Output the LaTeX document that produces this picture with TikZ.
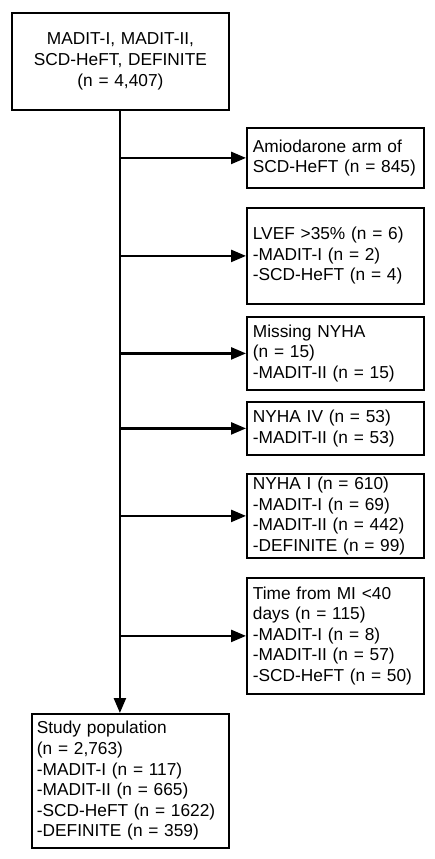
\documentclass[tikz,border=0pt]{standalone}
\usepackage{fontspec}
\setmainfont{Liberation Sans}
\usetikzlibrary{arrows.meta}
\begin{document}
\begin{tikzpicture}[x=1pt,y=-1pt,
  font=\fontsize{17.3}{20.6}\selectfont,
  box/.style={draw, line width=1.8pt, rectangle, inner sep=0pt, anchor=north west},
  rbox/.style={box, minimum width=177pt, text width=165pt, align=left},
  arr/.style={line width=2.4pt, -{Triangle[length=15pt,width=12pt]}}]
\useasboundingbox (0,0) rectangle (435,859);
\node[box, minimum width=217pt, minimum height=97pt, text width=205pt, align=center] (top) at (11,12)
  {MADIT-I, MADIT-II,\\SCD-HeFT, DEFINITE\\(n = 4,407)};
\node[rbox, minimum height=60pt] (b1) at (246,127) {Amiodarone arm of\\SCD-HeFT (n = 845)};
\node[rbox, minimum height=96pt] (b2) at (246,207) {LVEF >35\% (n = 6)\\-MADIT-I (n = 2)\\-SCD-HeFT (n = 4)};
\node[rbox, minimum height=73pt] (b3) at (246,316) {Missing NYHA\\(n = 15)\\-MADIT-II (n = 15)};
\node[rbox, minimum height=53pt] (b4) at (246,401) {NYHA IV (n = 53)\\-MADIT-II (n = 53)};
\node[rbox, minimum height=84pt] (b5) at (246,473) {NYHA I (n = 610)\\-MADIT-I (n = 69)\\-MADIT-II (n = 442)\\-DEFINITE (n = 99)};
\node[rbox, minimum height=116pt] (b6) at (246,577) {Time from MI <40\\days (n = 115)\\-MADIT-I (n = 8)\\-MADIT-II (n = 57)\\-SCD-HeFT (n = 50)};
\node[box, minimum width=197pt, minimum height=134pt, text width=187pt, align=left] (study) at (31,713)
  {Study population\\(n = 2,763)\\-MADIT-I (n = 117)\\-MADIT-II (n = 665)\\-SCD-HeFT (n = 1622)\\-DEFINITE (n = 359)};
\draw[arr] ([xshift=-0.5pt]top.south) -- ([xshift=-0.5pt]top.south |- study.north);
\foreach \b in {b1,b2,b3,b4,b5,b6}
  \draw[arr] ([xshift=-0.5pt]top.south |- \b.west) -- (\b.west);
\end{tikzpicture}
\end{document}
